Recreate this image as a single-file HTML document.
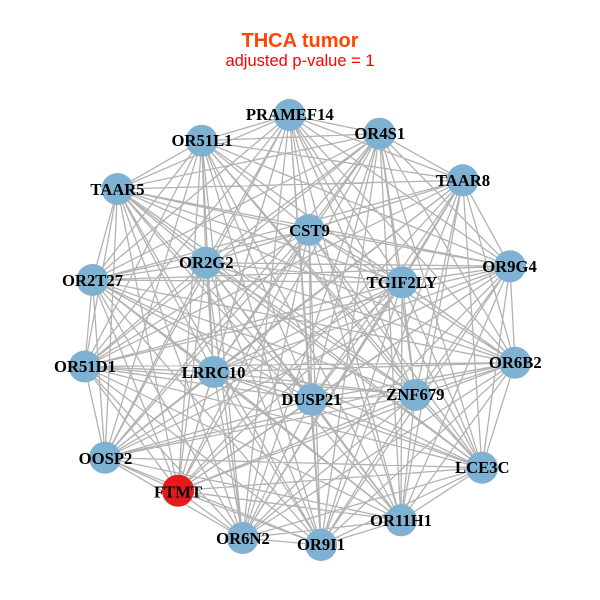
<!DOCTYPE html>
<html><head><meta charset="utf-8"><style>html,body{margin:0;padding:0;background:#fff}svg{display:block}</style></head>
<body>
<svg id="s" xmlns="http://www.w3.org/2000/svg" width="600" height="600" viewBox="0 0 600 600">
<rect width="600" height="600" fill="#fff"/>
<text x="300" y="47" text-anchor="middle" font-family="Liberation Sans, sans-serif" font-weight="bold" font-size="20" fill="#ff4500">THCA tumor</text>
<text x="300" y="66" text-anchor="middle" font-family="Liberation Sans, sans-serif" font-size="16.5" fill="#ff0000">adjusted p-value = 1</text>
<path id="e" fill="none" stroke="#b2b2b2" stroke-width="1.3" d=""/>
<g id="n" fill="#7fb1d3">
<circle cx="289.5" cy="115" r="16"/><circle cx="379.5" cy="133.7" r="16"/><circle cx="462.7" cy="180.3" r="16"/><circle cx="510" cy="266.3" r="16"/><circle cx="515" cy="362.7" r="16"/><circle cx="482" cy="467.7" r="16"/><circle cx="401" cy="520.3" r="16"/><circle cx="321" cy="545" r="16"/><circle cx="242.7" cy="538" r="16"/><circle cx="178" cy="490.7" r="16" fill="#e41a1c"/><circle cx="105" cy="457.7" r="16"/><circle cx="84.7" cy="366.5" r="16"/><circle cx="92.5" cy="280" r="16"/><circle cx="117.5" cy="189" r="16"/><circle cx="201.7" cy="140.7" r="16"/><circle cx="309" cy="230" r="16"/><circle cx="206" cy="262.7" r="16"/><circle cx="402" cy="282.3" r="16"/><circle cx="213.5" cy="372" r="16"/><circle cx="311.5" cy="399.7" r="16"/><circle cx="415.3" cy="395" r="16"/>
</g>
<g text-anchor="middle" font-family="Liberation Serif, serif" font-weight="bold" font-size="16.67" fill="#000">
<text x="289.8" y="120">PRAMEF14</text><text x="379.8" y="139">OR4S1</text><text x="463" y="186">TAAR8</text><text x="509.5" y="272">OR9G4</text><text x="515.3" y="368">OR6B2</text><text x="482.3" y="473">LCE3C</text><text x="401" y="526">OR11H1</text><text x="321" y="550">OR9I1</text><text x="243" y="544">OR6N2</text><text x="178" y="497.5">FTMT</text><text x="105.5" y="464">OOSP2</text><text x="85" y="372">OR51D1</text><text x="92.5" y="286">OR2T27</text><text x="117.5" y="195">TAAR5</text><text x="202" y="146">OR51L1</text><text x="309.5" y="236">CST9</text><text x="206.3" y="268">OR2G2</text><text x="402" y="288">TGIF2LY</text><text x="213.5" y="378">LRRC10</text><text x="311.5" y="405">DUSP21</text><text x="415.3" y="400">ZNF679</text>
</g>
</svg>
<script>
var c=document.querySelectorAll('#n circle'),p=[],d='';
for(var i=0;i<c.length;i++)p.push([c[i].getAttribute('cx'),c[i].getAttribute('cy')]);
for(i=0;i<p.length;i++)for(var j=i+1;j<p.length;j++)d+='M'+p[i][0]+' '+p[i][1]+'L'+p[j][0]+' '+p[j][1];
document.getElementById('e').setAttribute('d',d);
</script>
</body></html>
